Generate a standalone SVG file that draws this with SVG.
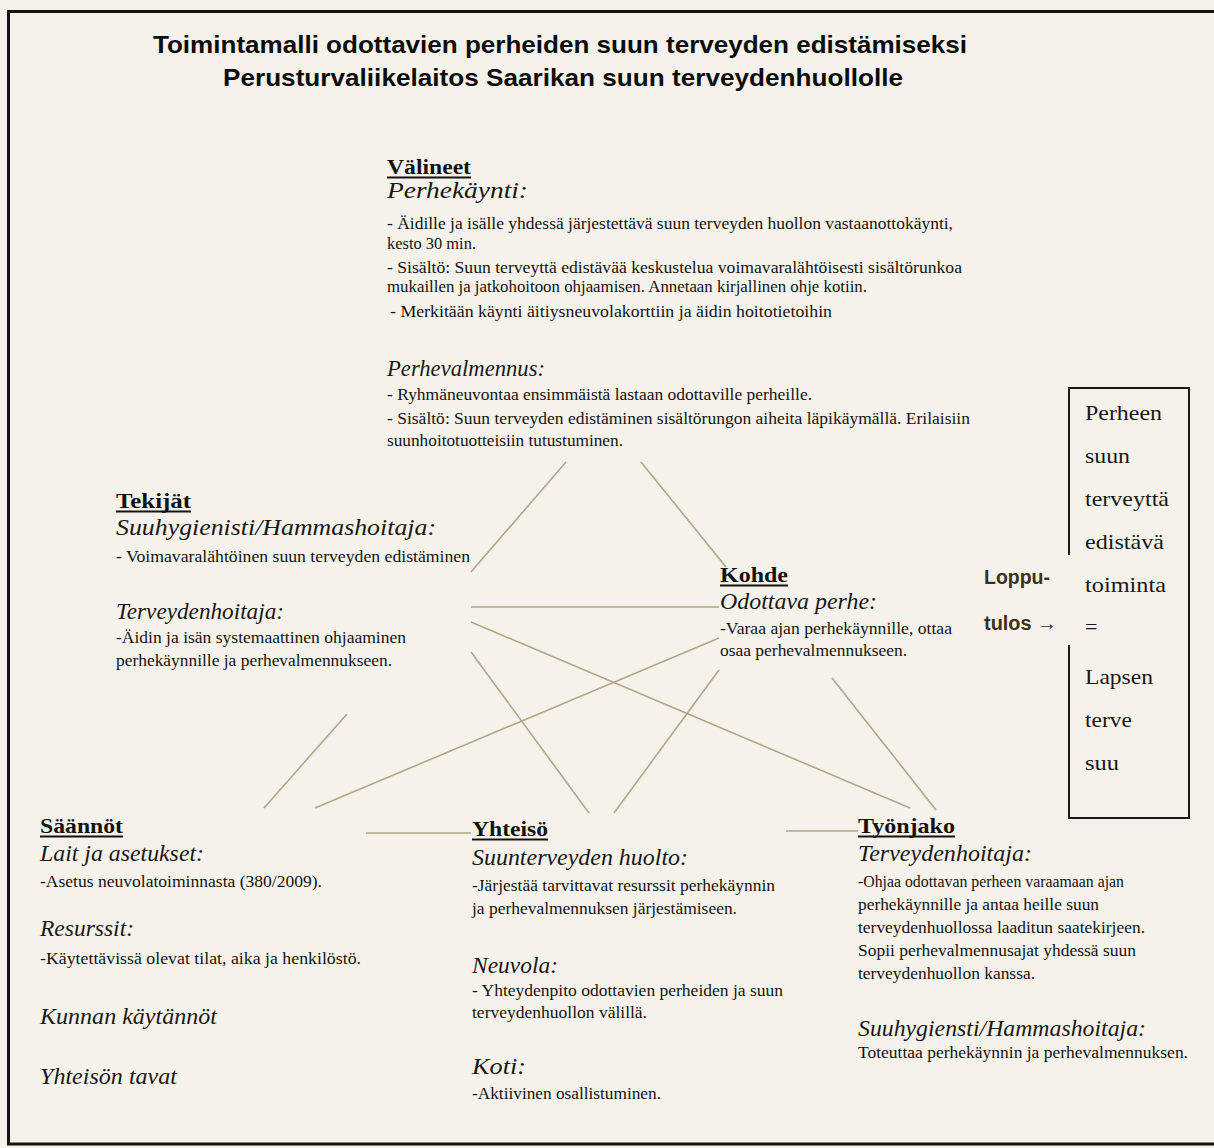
<svg xmlns="http://www.w3.org/2000/svg" width="1214" height="1148" viewBox="0 0 1214 1148">
<style>
.bg{fill:#f4f2ea}
.frame{fill:none;stroke:#141210;stroke-width:3}
.title{font-family:"Liberation Sans",Arial,sans-serif;font-weight:bold;font-size:24px;fill:#0c0c0c}
.h{font-family:"Liberation Serif","Times New Roman",serif;font-weight:bold;font-size:21px;fill:#141210}
.ul{stroke:#141210;stroke-width:2}
.sub{font-family:"Liberation Serif","Times New Roman",serif;font-style:italic;font-size:23px;fill:#1a1816}
.t{font-family:"Liberation Serif","Times New Roman",serif;font-size:16.5px;fill:#141210}
.box{font-family:"Liberation Serif","Times New Roman",serif;font-size:22px;fill:#1a1816}
.lop{font-family:"Liberation Sans",Arial,sans-serif;font-weight:bold;font-size:20px;fill:#3e2f17}
.con line{stroke:#b3a585;stroke-width:1.6}
.bx{stroke:#1a1816;stroke-width:2;fill:none}
</style>
<rect class="bg" x="0" y="0" width="1214" height="1148"/>
<path class="frame" d="M1216,11.5 H8.5 V1144 H1216"/>

<g id="title">
<text class="title" x="153" y="53" textLength="814" lengthAdjust="spacingAndGlyphs">Toimintamalli odottavien perheiden suun terveyden edistämiseksi</text>
<text class="title" x="223" y="86" textLength="680" lengthAdjust="spacingAndGlyphs">Perusturvaliikelaitos Saarikan suun terveydenhuollolle</text>
</g>

<g class="con" id="connectors">
<line x1="566" y1="462" x2="471" y2="572"/>
<line x1="641" y1="462" x2="726" y2="567"/>
<line x1="471" y1="607" x2="719" y2="607"/>
<line x1="471" y1="622" x2="910" y2="808"/>
<line x1="471" y1="652" x2="589" y2="813"/>
<line x1="347" y1="714" x2="264" y2="808"/>
<line x1="719" y1="638" x2="315" y2="808"/>
<line x1="719" y1="670" x2="614" y2="813"/>
<line x1="832" y1="678" x2="936" y2="810"/>
<line x1="366" y1="833" x2="471" y2="833"/>
<line x1="786" y1="831" x2="858" y2="831"/>
</g>

<g id="valineet">
<text class="h" x="387" y="174" textLength="84" lengthAdjust="spacingAndGlyphs">Välineet</text>
<line class="ul" x1="387" y1="177.5" x2="471" y2="177.5"/>
<text class="sub" x="387" y="198" textLength="141" lengthAdjust="spacingAndGlyphs">Perhekäynti:</text>
<text class="t" x="387" y="229" textLength="566" lengthAdjust="spacingAndGlyphs">- Äidille ja isälle yhdessä järjestettävä suun terveyden huollon vastaanottokäynti,</text>
<text class="t" x="387" y="249" textLength="89" lengthAdjust="spacingAndGlyphs">kesto 30 min.</text>
<text class="t" x="387" y="273" textLength="575" lengthAdjust="spacingAndGlyphs">- Sisältö: Suun terveyttä edistävää keskustelua voimavaralähtöisesti sisältörunkoa</text>
<text class="t" x="387" y="292" textLength="480" lengthAdjust="spacingAndGlyphs">mukaillen ja jatkohoitoon ohjaamisen. Annetaan kirjallinen ohje kotiin.</text>
<text class="t" x="390" y="317" textLength="442" lengthAdjust="spacingAndGlyphs">- Merkitään käynti äitiysneuvolakorttiin ja  äidin hoitotietoihin</text>
<text class="sub" x="387" y="376" textLength="158" lengthAdjust="spacingAndGlyphs">Perhevalmennus:</text>
<text class="t" x="387" y="400" textLength="425" lengthAdjust="spacingAndGlyphs">- Ryhmäneuvontaa ensimmäistä lastaan odottaville perheille.</text>
<text class="t" x="387" y="424" textLength="583" lengthAdjust="spacingAndGlyphs">- Sisältö: Suun terveyden edistäminen sisältörungon aiheita läpikäymällä. Erilaisiin</text>
<text class="t" x="387" y="446" textLength="236" lengthAdjust="spacingAndGlyphs">suunhoitotuotteisiin tutustuminen.</text>
</g>

<g id="tekijat">
<text class="h" x="116" y="508" textLength="75" lengthAdjust="spacingAndGlyphs">Tekijät</text>
<line class="ul" x1="116" y1="511.5" x2="191" y2="511.5"/>
<text class="sub" x="116" y="535" textLength="320" lengthAdjust="spacingAndGlyphs">Suuhygienisti/Hammashoitaja:</text>
<text class="t" x="116" y="562" textLength="354" lengthAdjust="spacingAndGlyphs">- Voimavaralähtöinen suun terveyden edistäminen</text>
<text class="sub" x="116" y="619" textLength="168" lengthAdjust="spacingAndGlyphs">Terveydenhoitaja:</text>
<text class="t" x="116" y="643" textLength="290" lengthAdjust="spacingAndGlyphs">-Äidin ja isän systemaattinen ohjaaminen</text>
<text class="t" x="116" y="666" textLength="276" lengthAdjust="spacingAndGlyphs">perhekäynnille ja perhevalmennukseen.</text>
</g>

<g id="kohde">
<text class="h" x="720" y="582" textLength="68" lengthAdjust="spacingAndGlyphs">Kohde</text>
<line class="ul" x1="720" y1="585.5" x2="788" y2="585.5"/>
<text class="sub" x="720" y="609" textLength="157" lengthAdjust="spacingAndGlyphs">Odottava perhe:</text>
<text class="t" x="720" y="634" textLength="232" lengthAdjust="spacingAndGlyphs">-Varaa ajan perhekäynnille, ottaa</text>
<text class="t" x="720" y="656" textLength="187" lengthAdjust="spacingAndGlyphs">osaa perhevalmennukseen.</text>
</g>

<g id="lopputulos">
<text class="lop" x="984" y="584" textLength="66" lengthAdjust="spacingAndGlyphs">Loppu-</text>
<text class="lop" x="984" y="630" textLength="73" lengthAdjust="spacingAndGlyphs">tulos →</text>
</g>

<g id="tulos">
<path class="bx" d="M1069,555 V388 H1189 V818 H1069 V645"/>
<text class="box" x="1085" y="420" textLength="77" lengthAdjust="spacingAndGlyphs">Perheen</text>
<text class="box" x="1085" y="463" textLength="45" lengthAdjust="spacingAndGlyphs">suun</text>
<text class="box" x="1085" y="506" textLength="84" lengthAdjust="spacingAndGlyphs">terveyttä</text>
<text class="box" x="1085" y="549" textLength="79" lengthAdjust="spacingAndGlyphs">edistävä</text>
<text class="box" x="1085" y="592" textLength="81" lengthAdjust="spacingAndGlyphs">toiminta</text>
<text class="box" x="1085" y="634">=</text>
<text class="box" x="1085" y="684" textLength="68" lengthAdjust="spacingAndGlyphs">Lapsen</text>
<text class="box" x="1085" y="727" textLength="47" lengthAdjust="spacingAndGlyphs">terve</text>
<text class="box" x="1085" y="770" textLength="34" lengthAdjust="spacingAndGlyphs">suu</text>
</g>

<g id="saannot">
<text class="h" x="40" y="833" textLength="83" lengthAdjust="spacingAndGlyphs">Säännöt</text>
<line class="ul" x1="40" y1="836.5" x2="123" y2="836.5"/>
<text class="sub" x="40" y="861" textLength="164" lengthAdjust="spacingAndGlyphs">Lait ja asetukset:</text>
<text class="t" x="40" y="887" textLength="282" lengthAdjust="spacingAndGlyphs">-Asetus neuvolatoiminnasta (380/2009).</text>
<text class="sub" x="40" y="936" textLength="94" lengthAdjust="spacingAndGlyphs">Resurssit:</text>
<text class="t" x="40" y="964" textLength="321" lengthAdjust="spacingAndGlyphs">-Käytettävissä olevat  tilat, aika ja henkilöstö.</text>
<text class="sub" x="40" y="1024" textLength="177" lengthAdjust="spacingAndGlyphs">Kunnan käytännöt</text>
<text class="sub" x="40" y="1084" textLength="137" lengthAdjust="spacingAndGlyphs">Yhteisön tavat</text>
</g>

<g id="yhteiso">
<text class="h" x="472" y="836" textLength="76" lengthAdjust="spacingAndGlyphs">Yhteisö</text>
<line class="ul" x1="472" y1="839.5" x2="548" y2="839.5"/>
<text class="sub" x="472" y="865" textLength="216" lengthAdjust="spacingAndGlyphs">Suunterveyden huolto:</text>
<text class="t" x="472" y="891" textLength="303" lengthAdjust="spacingAndGlyphs">-Järjestää tarvittavat resurssit perhekäynnin</text>
<text class="t" x="472" y="914" textLength="265" lengthAdjust="spacingAndGlyphs">ja perhevalmennuksen järjestämiseen.</text>
<text class="sub" x="472" y="973" textLength="86" lengthAdjust="spacingAndGlyphs">Neuvola:</text>
<text class="t" x="472" y="996" textLength="311" lengthAdjust="spacingAndGlyphs">- Yhteydenpito odottavien perheiden ja suun</text>
<text class="t" x="472" y="1018" textLength="175" lengthAdjust="spacingAndGlyphs">terveydenhuollon välillä.</text>
<text class="sub" x="472" y="1074" textLength="54" lengthAdjust="spacingAndGlyphs">Koti:</text>
<text class="t" x="472" y="1099" textLength="189" lengthAdjust="spacingAndGlyphs">-Aktiivinen osallistuminen.</text>
</g>

<g id="tyonjako">
<text class="h" x="858" y="833" textLength="97" lengthAdjust="spacingAndGlyphs">Työnjako</text>
<line class="ul" x1="858" y1="836.5" x2="955" y2="836.5"/>
<text class="sub" x="858" y="861" textLength="174" lengthAdjust="spacingAndGlyphs">Terveydenhoitaja:</text>
<text class="t" x="858" y="887" textLength="266" lengthAdjust="spacingAndGlyphs">-Ohjaa odottavan perheen varaamaan ajan</text>
<text class="t" x="858" y="910" textLength="241" lengthAdjust="spacingAndGlyphs">perhekäynnille ja antaa heille suun</text>
<text class="t" x="858" y="933" textLength="287" lengthAdjust="spacingAndGlyphs">terveydenhuollossa laaditun saatekirjeen.</text>
<text class="t" x="858" y="956" textLength="278" lengthAdjust="spacingAndGlyphs">Sopii perhevalmennusajat yhdessä suun</text>
<text class="t" x="858" y="979" textLength="177" lengthAdjust="spacingAndGlyphs">terveydenhuollon kanssa.</text>
<text class="sub" x="858" y="1036" textLength="288" lengthAdjust="spacingAndGlyphs">Suuhygiensti/Hammashoitaja:</text>
<text class="t" x="858" y="1058" textLength="330" lengthAdjust="spacingAndGlyphs">Toteuttaa perhekäynnin ja perhevalmennuksen.</text>
</g>
</svg>
